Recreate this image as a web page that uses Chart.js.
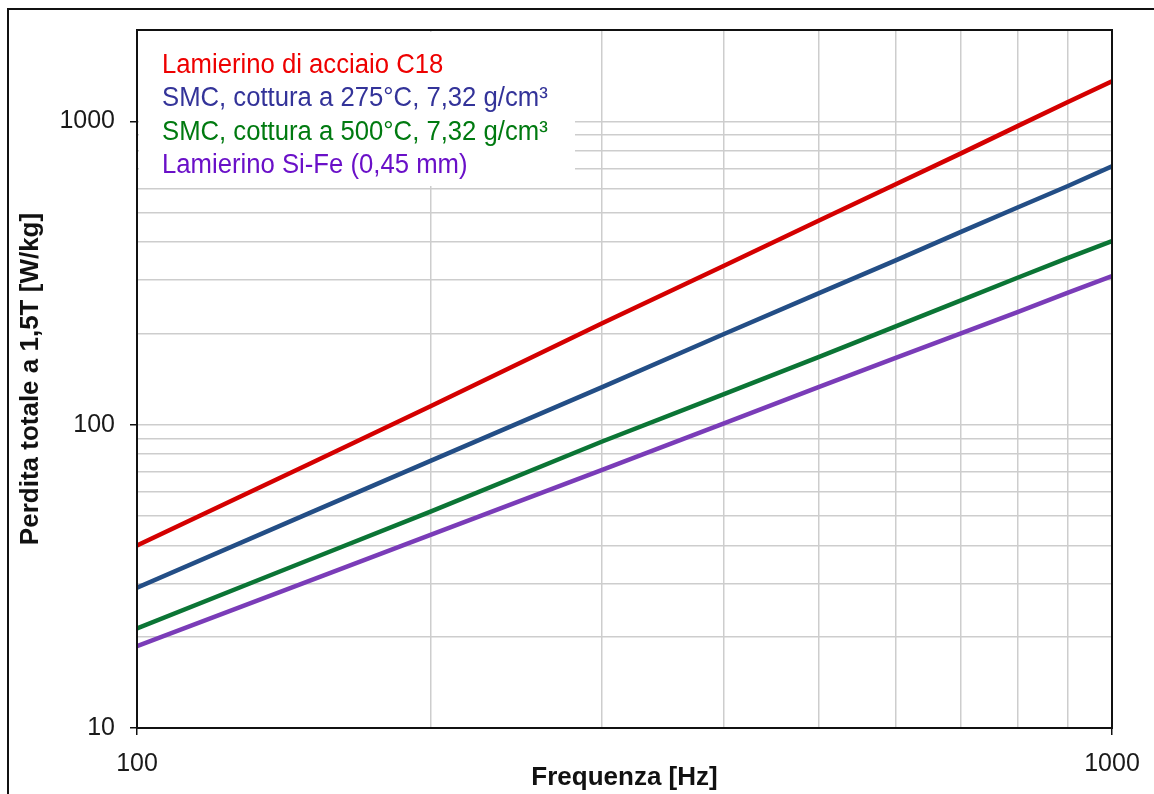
<!DOCTYPE html>
<html>
<head>
<meta charset="utf-8">
<script src="https://cdn.jsdelivr.net/npm/chart.js@4.4.1/dist/chart.umd.min.js"></script>
<style>
body { margin: 0; background: #fff; }
#wrap { position: relative; width: 1154px; height: 794px; overflow: hidden; background: #fff; }
#wrap canvas { position: absolute; left: 0; top: 0; }
#frame { position: absolute; left: 7px; top: 8px; width: 1200px; height: 900px; border: 2px solid #111; pointer-events: none; }
</style>
</head>
<body>
<div id="wrap">
  <canvas id="lossChart" width="1154" height="794"></canvas>
  <div id="frame"></div>
</div>
<script>
// Frequency points [Hz]
const frequencies = [100, 150, 200, 300, 400, 500, 600, 700, 800, 900, 1000];

// Total loss at 1.5 T [W/kg]
const lossC18 = [40, 74, 115, 216, 334, 470, 620, 784, 964, 1156, 1355];
const lossSmc275 = [29, 51, 76, 133, 199, 271, 348, 432, 520, 611, 711];
const lossSmc500 = [21.3, 35.8, 51.7, 88, 126, 167, 211, 257, 305, 354, 403];
const lossSiFe = [18.6, 30.5, 43.3, 71, 101, 133, 166, 200, 235, 272, 309];

const seriesNames = [
    "Lamierino di acciaio C18",
    "SMC, cottura a 275°C, 7,32 g/cm³",
    "SMC, cottura a 500°C, 7,32 g/cm³",
    "Lamierino Si-Fe (0,45 mm)"
];
const lineColors = ["#d40000", "#234e86", "#0b7535", "#7a3cb8"];
const textColors = ["#ee0000", "#333399", "#007a10", "#6a10c8"];

// Grid positions (decade subdivisions) and the labelled ones
const xGridValues = [100, 200, 300, 400, 500, 600, 700, 800, 900, 1000];
const yGridValues = [10, 20, 30, 40, 50, 60, 70, 80, 90, 100, 200, 300, 400, 500, 600, 700, 800, 900, 1000, 2000];
const yTickLabels = [10, 100, 1000];
const xTickLabels = [100, 1000];

const FONT = "'Liberation Sans', Arial, sans-serif";

function isLabelled(list, value) {
    return list.some(v => Math.abs(v - value) < 1e-6);
}

function toPoints(values) {
    return frequencies.map((f, i) => ({ x: f, y: values[i] }));
}

// White box with coloured series names in the upper left of the plot
const legendBox = {
    id: "legendBox",
    beforeDatasetsDraw(chart) {
        const { ctx, chartArea } = chart;
        ctx.save();
        ctx.fillStyle = "#fff";
        ctx.fillRect(chartArea.left + 2, chartArea.top + 2, 436, 154);
        ctx.font = "25.7px " + FONT;
        ctx.textBaseline = "alphabetic";
        ctx.textAlign = "left";
        chart.data.datasets.forEach((ds, i) => {
            ctx.save();
            const y = chartArea.top + 43 + i * 33.4;
            ctx.translate(chartArea.left + 25, y);
            ctx.scale(1, 1.08);
            ctx.fillStyle = textColors[i];
            ctx.fillText(ds.label, 0, 0);
            ctx.restore();
        });
        ctx.restore();
    }
};

// Black frame round the plot area
const plotFrame = {
    id: "plotFrame",
    afterDraw(chart) {
        const { ctx, chartArea } = chart;
        ctx.save();
        ctx.strokeStyle = "#111";
        ctx.lineWidth = 2;
        ctx.strokeRect(chartArea.left, chartArea.top, chartArea.right - chartArea.left, chartArea.bottom - chartArea.top);
        ctx.restore();
    }
};

const allSeries = [lossC18, lossSmc275, lossSmc500, lossSiFe];

new Chart(document.getElementById("lossChart").getContext("2d"), {
    type: "line",
    data: {
        datasets: allSeries.map((values, i) => ({
            label: seriesNames[i],
            data: toPoints(values),
            borderColor: lineColors[i],
            borderWidth: 4.5,
            pointRadius: 0,
            tension: 0,
            fill: false
        }))
    },
    options: {
        responsive: false,
        animation: false,
        layout: { padding: { top: 29, right: 42, left: 0, bottom: 0 } },
        plugins: {
            legend: { display: false },
            tooltip: { enabled: false }
        },
        scales: {
            x: {
                type: "logarithmic",
                min: 100,
                max: 1000,
                afterBuildTicks(scale) { scale.ticks = xGridValues.map(v => ({ value: v })); },
                afterFit(scale) { scale.height = 66; },
                border: { color: "#111", width: 2 },
                grid: {
                    color: "#cdcdcd",
                    lineWidth: 1.5,
                    tickLength: 7,
                    tickColor: ctx => isLabelled(xTickLabels, ctx.tick.value) ? "#111" : "rgba(0,0,0,0)"
                },
                ticks: {
                    autoSkip: false,
                    maxRotation: 0,
                    padding: 14,
                    color: "#1a1a1a",
                    font: { family: FONT, size: 25 },
                    callback: value => isLabelled(xTickLabels, value) ? String(value) : ""
                },
                title: {
                    display: true,
                    text: "Frequenza [Hz]",
                    color: "#111",
                    font: { family: FONT, size: 26, weight: "bold" },
                    padding: { top: 0, bottom: 1 }
                }
            },
            y: {
                type: "logarithmic",
                min: 10,
                max: 2000,
                afterBuildTicks(scale) { scale.ticks = yGridValues.map(v => ({ value: v })); },
                afterFit(scale) { scale.width = 137; },
                border: { color: "#111", width: 2 },
                grid: {
                    color: "#cdcdcd",
                    lineWidth: 1.5,
                    tickLength: 7,
                    tickColor: ctx => isLabelled(yTickLabels, ctx.tick.value) ? "#111" : "rgba(0,0,0,0)"
                },
                ticks: {
                    autoSkip: false,
                    padding: 15,
                    color: "#1a1a1a",
                    font: { family: FONT, size: 25 },
                    callback: value => isLabelled(yTickLabels, value) ? String(value) : ""
                },
                title: {
                    display: true,
                    text: "Perdita totale a 1,5T [W/kg]",
                    color: "#111",
                    font: { family: FONT, size: 26, weight: "bold" },
                    padding: { top: 15, bottom: 0 }
                }
            }
        }
    },
    plugins: [legendBox, plotFrame]
});
</script>
</body>
</html>
